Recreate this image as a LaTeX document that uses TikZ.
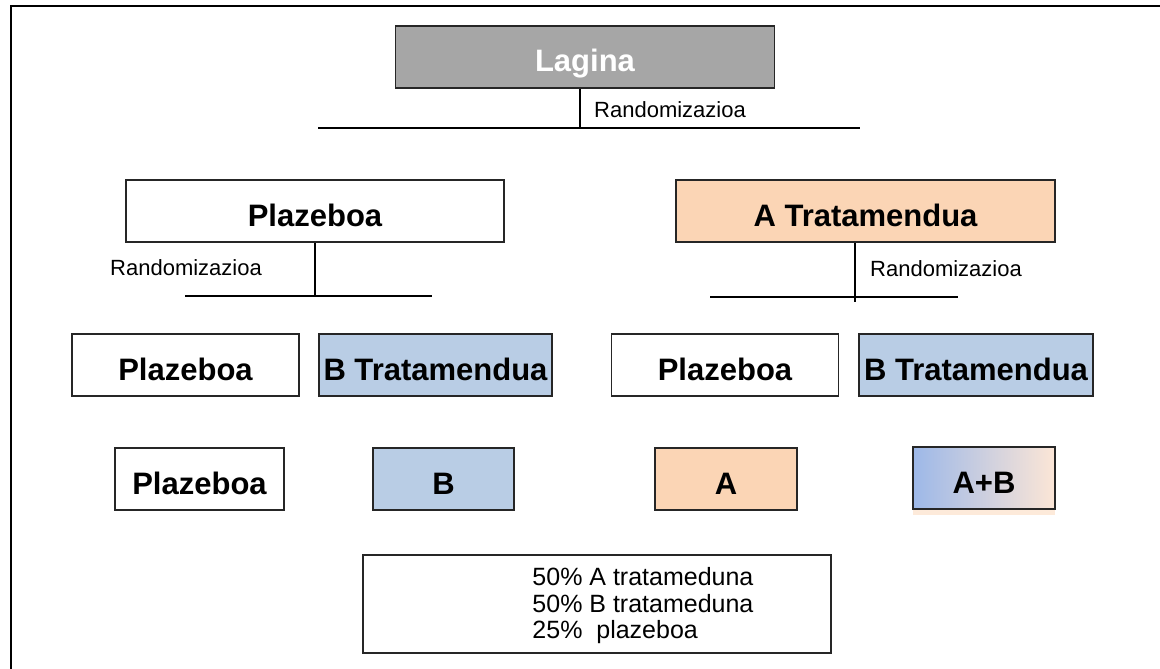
\documentclass[tikz,border=0pt]{standalone}
\usepackage{fontspec}
\setmainfont{Liberation Sans}
\usetikzlibrary{shadows}
\usetikzlibrary{positioning}

\definecolor{laginagray}{HTML}{A6A6A6}
\definecolor{apeach}{HTML}{FBD5B5}
\definecolor{bblue}{HTML}{B9CDE5}
\definecolor{abblue}{HTML}{9DB8E8}
\definecolor{abpeach}{HTML}{FCE6D6}

\begin{document}
\begin{tikzpicture}
[x=1pt,y=-1pt,%
  every node/.style={shape=rectangle,inner sep=0pt},%
  box/.style={draw=black!85,line width=1.5pt,minimum height=62pt,%
    text height=30pt,text depth=0pt,%
    font=\fontsize{31}{36}\selectfont\bfseries},%
  randlabel/.style={anchor=west,font=\fontsize{22}{26}\selectfont},%
  bar/.style={line width=1.3pt}]
\useasboundingbox (0,0) rectangle (1160,669);
% frame
\draw[line width=2pt] (11,669) -- (11,6) -- (1160,6);
% top
\node[box,fill=laginagray,text=white,minimum width=379pt,minimum height=62pt] (lagina) at (585,57) {Lagina};
\coordinate (bar0l) at (318,128);
\coordinate (bar0r) at (860,128);
\coordinate (rnd0) at (580,128);
\draw[bar] (bar0l) -- (bar0r);
\draw[bar] (rnd0 |- lagina.south) -- (rnd0);
\node[randlabel] (rand0) at (594,110) {Randomizazioa};
% second level
\node[box,minimum width=378pt] (plaz2) at (315,211) {Plazeboa};
\node[box,fill=apeach,minimum width=379pt] (atrat2) at (865.5,211) {A Tratamendua};
\coordinate (bar1l) at (185,296);
\coordinate (bar1r) at (432,296);
\coordinate (bar2l) at (710,297);
\coordinate (bar2r) at (958,297);
\coordinate (rnd2) at (855,302);
\draw[bar] (bar1l) -- (bar1r);
\draw[bar] (plaz2.south) -- (plaz2.south |- bar1l);
\draw[bar] (bar2l) -- (bar2r);
\draw[bar] (rnd2 |- atrat2.south) -- (rnd2);
\node[randlabel] (rand1) at (110,268) {Randomizazioa};
\node[randlabel] (rand2) at (870,269) {Randomizazioa};
% third level
\node[box,minimum width=227pt] (plaz3l) at (185.5,365) {Plazeboa};
\node[box,fill=bblue,minimum width=233pt] (btrat3l) at (435.5,365) {B Tratamendua};
\node[box,minimum width=227pt] (plaz3r) at (725,365) {Plazeboa};
\node[box,fill=bblue,minimum width=234pt] (btrat3r) at (976,365) {B Tratamendua};
% fourth level
\node[box,minimum width=169pt] (plaz4) at (199.5,479) {Plazeboa};
\node[box,fill=bblue,minimum width=141pt] (b4) at (443.5,479) {B};
\node[box,fill=apeach,minimum width=142pt] (a4) at (726,479) {A};
\node[box,left color=abblue,right color=abpeach,minimum width=142pt,%
  drop shadow={shadow xshift=0pt,shadow yshift=-6pt,fill=apeach,opacity=0.5}] (ab4) at (984,478) {A+B};
% summary
\node[draw=black!85,line width=1.5pt,minimum width=468pt,minimum height=98pt] (summary) at (597,604) {};
\node[anchor=west,align=left,font=\fontsize{25}{26.5}\selectfont,right=170pt of summary.west,yshift=-2pt] (sumtext)
  {50\% A tratameduna\\50\% B tratameduna\\25\%~~plazeboa};
\end{tikzpicture}
\end{document}
